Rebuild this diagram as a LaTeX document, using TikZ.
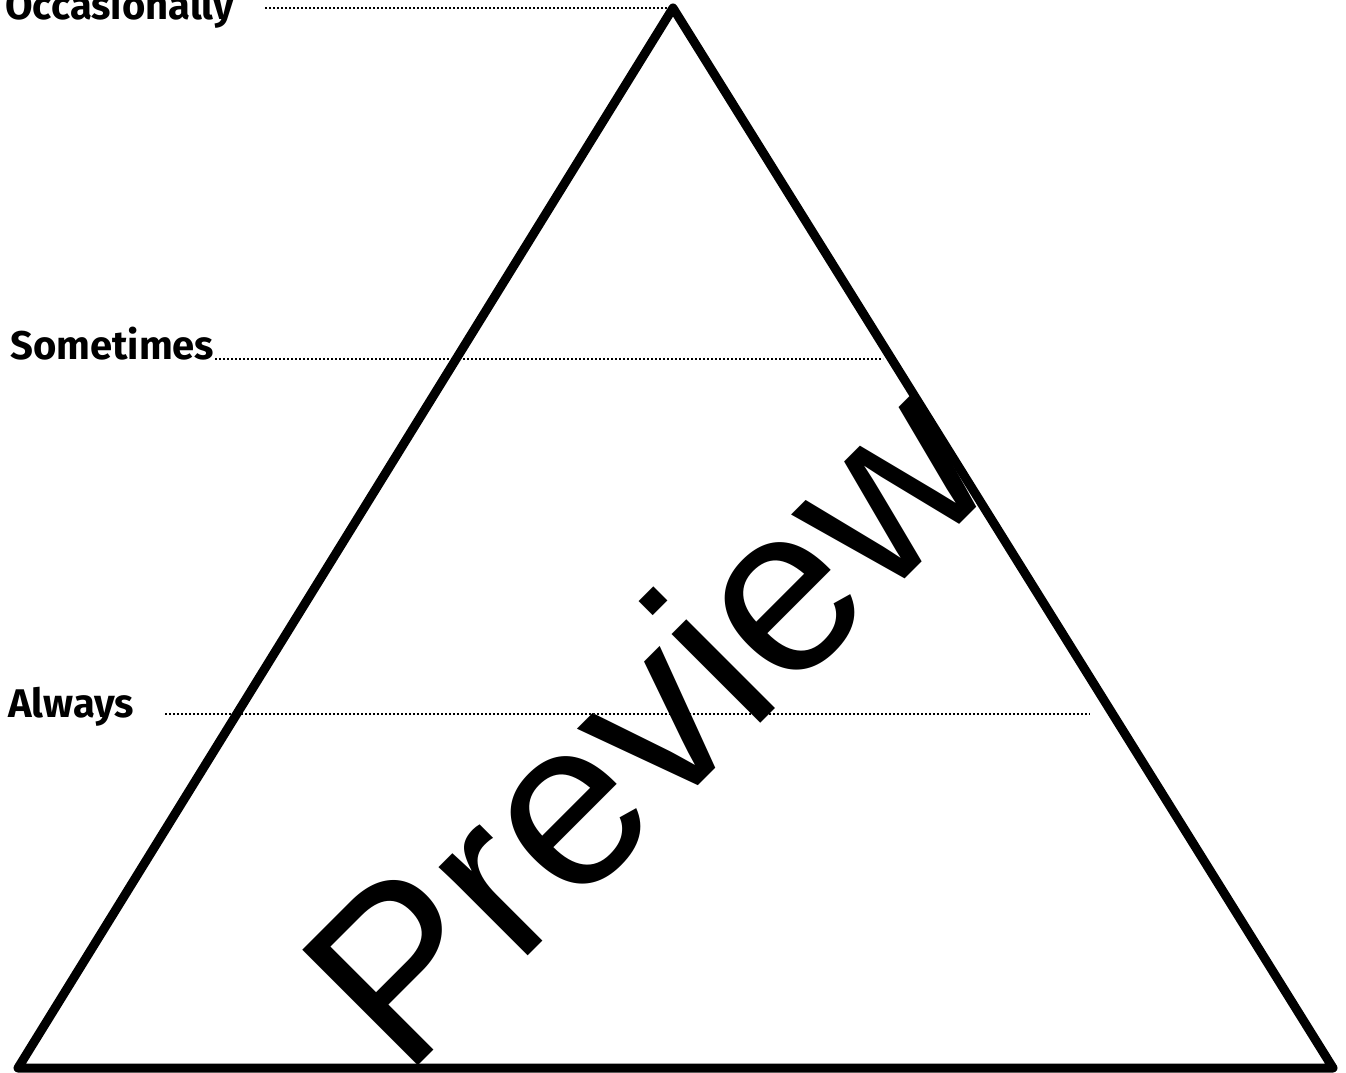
\documentclass[tikz,border=0pt]{standalone}
\usepackage{fontspec}
\newfontfamily\levelfont{Fira Sans}
\newfontfamily\stampfont{Liberation Sans}
\usetikzlibrary{positioning}

\begin{document}
\begin{tikzpicture}[
    x=1pt, y=1pt,
    levellabel/.style={anchor=base west, inner sep=0pt, font=\levelfont\bfseries\fontsize{40}{40}\selectfont},
    guideline/.style={line width=1.6pt, dash pattern=on 1.6pt off 2.4pt},
    pyramid/.style={line width=9pt, line join=round},
    stamp/.style={anchor=base west, inner sep=0pt, rotate=45, font=\stampfont\fontsize{237.5}{240}\selectfont}
]
\useasboundingbox (0,0) rectangle (1346,1072);

% --- corners of the pyramid ---
\coordinate (apex)  at (673,1064);
\coordinate (left)  at (18,4);
\coordinate (right) at (1333,4);

% --- level labels ---
\node[levellabel] (occ)  at (5,1052)  {Occasionally};
\node[levellabel] (some) at (10,712)  {Sometimes};
\node[levellabel] (alw)  at (8,355)   {Always};

% --- ends of the dotted guides ---
\coordinate (occStart)  at (265,1064);
\coordinate (occEnd)    at (670,1064);
\coordinate (someStart) at (215,713);
\coordinate (someEnd)   at (883,713);
\coordinate (alwStart)  at (165,358);
\coordinate (alwEnd)    at (1090,358);

% dotted guides
\draw[guideline] (occStart) -- (occEnd);
\draw[guideline] (someStart) -- (someEnd);
\draw[guideline] (alwStart) -- (alwEnd);

% pyramid outline
\draw[pyramid] (left) -- (apex) -- (right) -- cycle;

% --- watermark ---
\node[stamp] (mark) at (404,-8) {Preview};

\end{tikzpicture}
\end{document}
